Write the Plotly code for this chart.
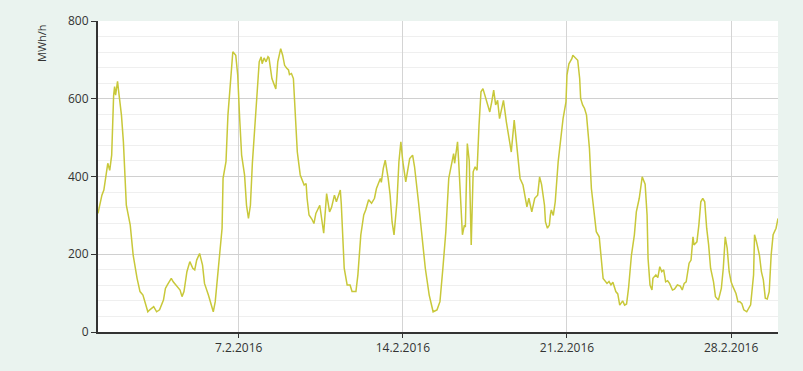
import pandas as pd
import plotly.graph_objects as go

# Hours since 2016-02-01 00:00 and hourly energy (MWh/h)
hours = [0, 4, 6, 9, 10, 12, 14, 16, 17, 18, 20, 21, 24, 26, 28, 29, 33, 36, 40, 43,
         46, 48, 51, 53, 57, 60, 63, 67, 69, 71, 73, 75, 77, 81, 84, 86, 88, 91, 94, 97,
         99, 101, 104, 107, 109, 113, 118, 120, 123, 125, 127, 128, 131, 133, 136, 138, 141, 143, 145, 147,
         150, 152, 154, 156, 158, 161, 163, 165, 167, 168, 170, 172, 174, 175, 178, 180, 182, 184, 186, 187,
         189, 191, 193, 195, 196, 198, 200, 202, 204, 207, 209, 211, 213, 214, 216, 219, 221, 223, 227, 231,
         234, 237, 239, 242, 244, 248, 249, 252, 255, 258, 260, 264, 266, 269, 272, 274, 277, 280, 283, 285,
         289, 290, 292, 294, 297, 299, 301, 303, 306, 308, 310, 312, 315, 318, 319, 322, 324, 328, 331, 335,
         339, 343, 347, 350, 353, 356, 359, 361, 364, 365, 368, 369, 371, 373, 375, 376, 378, 380, 382, 384,
         386, 388, 390, 392, 394, 398, 401, 403, 405, 407, 409, 411, 413, 415, 418, 423, 426, 430, 432, 435,
         439, 441, 444, 447, 450, 452, 454, 457, 458, 460, 462, 463, 464, 466, 468, 471, 474, 476, 479, 480,
         482, 485, 486, 489, 491, 493, 494, 496, 498, 500, 503, 505, 508, 510, 513, 515, 517, 521, 523, 525,
         527, 530, 532, 534, 537, 539, 541, 543, 546, 549, 551, 554, 557, 560, 562, 563, 565, 567, 568, 571,
         573, 575, 577, 579, 581, 583, 585, 588, 590, 593, 596, 598, 600, 602, 605, 607, 609, 610, 613, 615,
         617, 619, 621, 623, 625, 627, 630, 632, 635, 638, 640, 642, 644, 646, 648, 650, 653, 655, 657, 659,
         661, 664, 666, 668, 671, 672, 674, 677, 679, 681, 683, 685, 687, 689, 691, 694, 696]

energy = [305, 352, 365, 421, 434, 416, 455, 609, 631, 609, 645, 622, 558, 489, 386, 326, 275, 198, 138, 104,
          95, 78, 52, 57, 65, 52, 57, 82, 112, 121, 129, 138, 129, 116, 108, 91, 104, 155, 181, 164,
          160, 185, 202, 172, 125, 95, 52, 78, 164, 215, 267, 395, 438, 558, 661, 721, 712, 661, 549, 455,
          404, 326, 292, 326, 434, 558, 643, 695, 708, 690, 705, 695, 708, 705, 652, 639, 625, 695, 716, 729,
          712, 686, 679, 674, 662, 665, 652, 558, 463, 404, 391, 378, 382, 344, 301, 290, 279, 305, 326, 254,
          356, 309, 320, 352, 335, 365, 330, 164, 121, 121, 104, 104, 147, 250, 301, 314, 340, 331, 344, 369,
          395, 385, 421, 442, 395, 352, 283, 250, 335, 438, 489, 438, 386, 425, 446, 455, 425, 335, 258, 164,
          95, 52, 57, 78, 164, 258, 395, 425, 459, 434, 489, 446, 335, 250, 275, 270, 485, 440, 224, 412,
          425, 416, 532, 618, 626, 592, 566, 592, 622, 584, 596, 549, 575, 596, 540, 463, 545, 438, 395, 378,
          322, 344, 309, 344, 352, 399, 380, 326, 283, 267, 275, 301, 314, 300, 335, 438, 510, 549, 592, 661,
          690, 703, 712, 703, 699, 652, 601, 584, 575, 558, 472, 369, 301, 258, 245, 181, 138, 125, 130, 121,
          128, 104, 98, 69, 80, 69, 72, 112, 198, 250, 309, 344, 399, 380, 301, 189, 121, 108, 138, 147,
          140, 168, 155, 160, 129, 132, 125, 108, 110, 121, 118, 108, 125, 129, 177, 185, 245, 224, 232, 275,
          335, 344, 335, 267, 224, 164, 129, 91, 82, 112, 164, 245, 215, 155, 129, 116, 99, 78, 78, 73,
          57, 52, 61, 70, 147, 250, 232, 198, 155, 134, 87, 85, 104, 198, 250, 267, 292]

tick_dates = ["2016-02-07", "2016-02-14", "2016-02-21", "2016-02-28"]
tick_labels = ["7.2.2016", "14.2.2016", "21.2.2016", "28.2.2016"]
y_ticks = [0, 200, 400, 600, 800]

start = pd.Timestamp("2016-02-01 00:00")
times = [start + pd.Timedelta(hours=h) for h in hours]

bg = "#EAF3EF"

fig = go.Figure()
fig.add_trace(go.Scatter(
    x=times, y=energy, mode="lines",
    line=dict(color="#C8C83A", width=1.5),
    showlegend=False, hoverinfo="x+y",
))

font_family = "Open Sans, Noto Sans, DejaVu Sans, sans-serif"

fig.update_layout(
    width=803, height=371,
    margin=dict(l=98, r=25, t=21, b=39),
    paper_bgcolor=bg,
    plot_bgcolor="#FFFFFF",
    font=dict(family=font_family, size=12, color="#333333"),
    xaxis=dict(
        type="date",
        range=["2016-02-01", "2016-03-01"],
        tickvals=tick_dates, ticktext=tick_labels,
        showgrid=True, gridcolor="#D4D4D4", gridwidth=1,
        showline=True, linecolor="#333333", linewidth=2,
        ticks="outside", ticklen=4, tickcolor="#333333",
        tickfont=dict(size=12, color="#333333"),
        zeroline=False,
    ),
    yaxis=dict(
        range=[0, 800],
        tickvals=y_ticks,
        showgrid=True, gridcolor="#D0D0D0", gridwidth=1,
        minor=dict(dtick=40, showgrid=True, gridcolor="#EFEFEF", gridwidth=1),
        showline=True, linecolor="#333333", linewidth=2,
        ticks="outside", ticklen=5, tickcolor="#333333",
        tickfont=dict(size=12, color="#333333"),
        zeroline=False,
    ),
    annotations=[dict(
        text="MWh/h", textangle=-90,
        xref="paper", yref="paper",
        x=-0.082, y=0.93, xanchor="center", yanchor="middle",
        showarrow=False, font=dict(size=11, color="#333333"),
    )],
)

fig.write_html(
    "out.html",
    config={"displayModeBar": False},
    post_script=(
        "document.body.style.margin='0';"
        "document.body.style.padding='0';"
        f"document.body.style.background='{bg}';"
    ),
)
